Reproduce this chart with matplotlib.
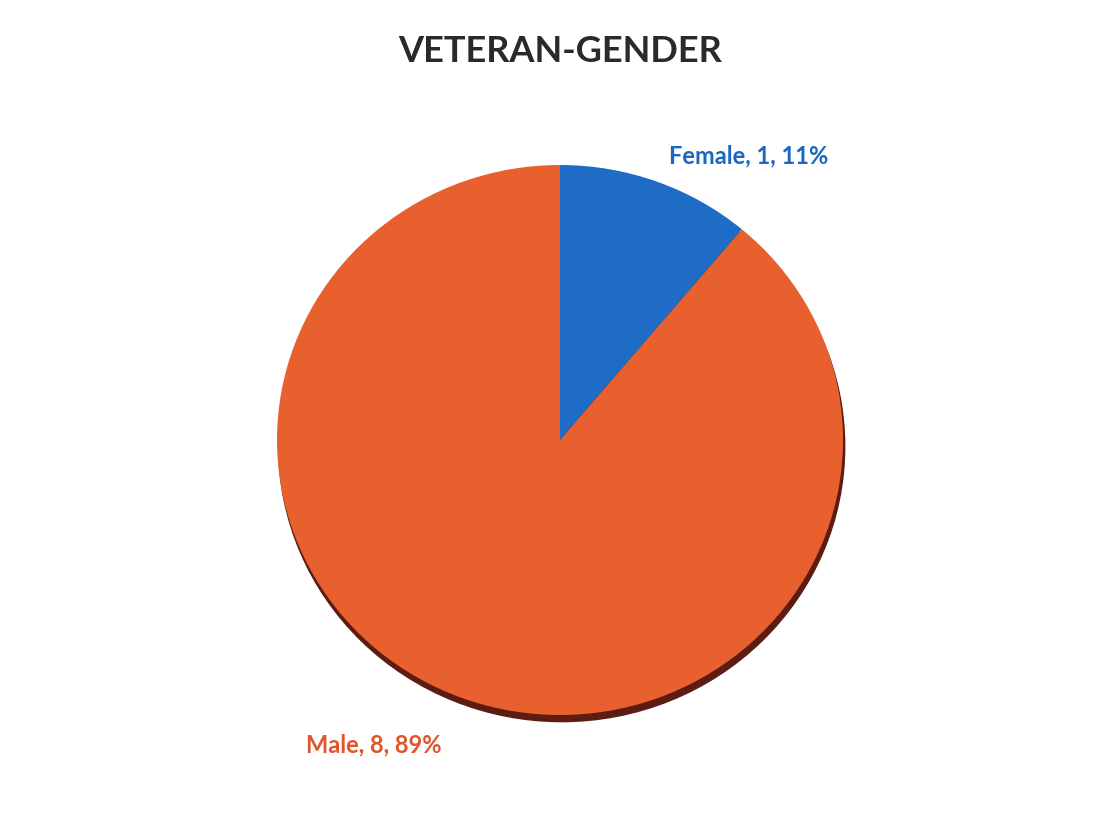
import matplotlib.pyplot as plt
from matplotlib.patches import Ellipse

title = "VETERAN-GENDER"
labels = ["Female", "Male"]
counts = [1, 8]
colors = ["#1E6CC6", "#E8602E"]
label_colors = ["#1A66C0", "#E0552A"]

total = sum(counts)
pcts = [round(100 * c / total) for c in counts]

fig = plt.figure(figsize=(11.05, 8.31), dpi=100)
fig.patch.set_facecolor("white")

# pie axes sized to the pie's pixel box in the reference
ax = fig.add_axes([277 / 1105, (831 - 715) / 831, 566 / 1105, 550 / 831])

# dark rim shadow under the pie
shadow = Ellipse((0.006, -0.024), 2.0, 2.0, color="#5C1C12", zorder=1)
shadow.set_clip_on(False)
ax.add_patch(shadow)

ax.pie(counts, colors=colors, startangle=90, counterclock=False,
       radius=1.0, wedgeprops=dict(linewidth=0, zorder=2))
ax.set_xlim(-1, 1)
ax.set_ylim(-1, 1)
ax.set_aspect("auto")
ax.axis("off")

font = ["Lato", "DejaVu Sans"]
fig.text(560 / 1105, 1 - 52 / 831, title, ha="center", va="center",
         fontsize=26, fontweight="bold", color="#2A2A2A", family=font)

fig.text(749 / 1105, 1 - 156 / 831, f"{labels[0]}, {counts[0]}, {pcts[0]}%",
         ha="center", va="center", fontsize=17, fontweight="bold",
         color=label_colors[0], family=font)
fig.text(374 / 1105, 1 - 745 / 831, f"{labels[1]}, {counts[1]}, {pcts[1]}%",
         ha="center", va="center", fontsize=17, fontweight="bold",
         color=label_colors[1], family=font)

fig.savefig("out.png", dpi=100, facecolor="white")
